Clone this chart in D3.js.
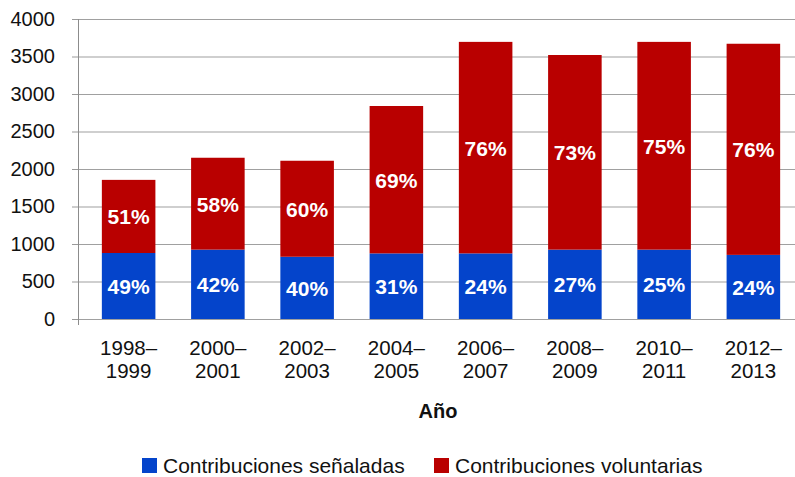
<!DOCTYPE html>
<html>
<head>
<meta charset="utf-8">
<title>Contribuciones</title>
<style>
  body { margin: 0; background: #fff; }
  text { font-family: "Liberation Sans", Arial, sans-serif; }
</style>
</head>
<body>
<svg width="795" height="477"></svg>
<script src="https://d3js.org/d3.v7.min.js"></script>
<script>
// data
var periods = ["1998–1999", "2000–2001", "2002–2003", "2004–2005", "2006–2007", "2008–2009", "2010–2011", "2012–2013"];
var senaladas = [880, 925, 830, 875, 875, 925, 925, 855];
var voluntarias = [975, 1225, 1280, 1965, 2820, 2595, 2770, 2815];
var pctSenaladas = ["49%", "42%", "40%", "31%", "24%", "27%", "25%", "24%"];
var pctVoluntarias = ["51%", "58%", "60%", "69%", "76%", "73%", "75%", "76%"];
var yTicks = [0, 500, 1000, 1500, 2000, 2500, 3000, 3500, 4000];
var seriesNames = ["Contribuciones señaladas", "Contribuciones voluntarias"];
var colors = ["#0444CB", "#B90000"];

var svg = d3.select("svg");

var x = d3.scaleBand()
    .domain(periods)
    .range([84, 798])
    .paddingInner(0.4)
    .paddingOuter(0.2);

var y = d3.scaleLinear()
    .domain([0, 4000])
    .range([319, 19]);

// gridlines + y ticks
var yAxis = svg.append("g")
    .attr("transform", "translate(78,0)")
    .call(d3.axisLeft(y).tickValues(yTicks).tickSize(6).tickPadding(17).tickFormat(d3.format("d")));
yAxis.select(".domain").remove();
yAxis.selectAll(".tick line").attr("stroke", "#9a9a9a");
yAxis.selectAll(".tick text")
    .attr("font-size", 20)
    .attr("fill", "#111")
    .attr("font-family", "'Liberation Sans', Arial, sans-serif");

svg.append("g").selectAll("line")
    .data(yTicks)
    .enter().append("line")
    .attr("x1", 78).attr("x2", 795)
    .attr("y1", d => y(d) + 0.5).attr("y2", d => y(d) + 0.5)
    .attr("stroke", "#a0a0a0")
    .attr("stroke-width", 1.2);

// y axis line
svg.append("line")
    .attr("x1", 78.5).attr("x2", 78.5)
    .attr("y1", y(4000)).attr("y2", y(0) + 6)
    .attr("stroke", "#8c8c8c");

var stacked = periods.map(function(p, i) {
  return {period: p, s: senaladas[i], v: voluntarias[i], ps: pctSenaladas[i], pv: pctVoluntarias[i]};
});

var bars = svg.append("g").selectAll("g")
    .data(stacked)
    .enter().append("g");

bars.append("rect")
    .attr("x", d => x(d.period))
    .attr("width", x.bandwidth())
    .attr("y", d => y(d.s))
    .attr("height", d => y(0) - y(d.s))
    .attr("fill", colors[0]);

bars.append("rect")
    .attr("x", d => x(d.period))
    .attr("width", x.bandwidth())
    .attr("y", d => y(d.s + d.v))
    .attr("height", d => y(d.s) - y(d.s + d.v))
    .attr("fill", colors[1]);

bars.append("text")
    .attr("x", d => x(d.period) + x.bandwidth() / 2)
    .attr("y", d => (y(0) + y(d.s)) / 2 + 8)
    .attr("text-anchor", "middle")
    .attr("font-size", 21)
    .attr("font-weight", "bold")
    .attr("fill", "#fff")
    .text(d => d.ps);

bars.append("text")
    .attr("x", d => x(d.period) + x.bandwidth() / 2)
    .attr("y", d => (y(d.s) + y(d.s + d.v)) / 2 + 8)
    .attr("text-anchor", "middle")
    .attr("font-size", 21)
    .attr("font-weight", "bold")
    .attr("fill", "#fff")
    .text(d => d.pv);

// x labels, two lines
var xl = svg.append("g").selectAll("text")
    .data(periods)
    .enter().append("text")
    .attr("text-anchor", "middle")
    .attr("font-size", 20.5)
    .attr("fill", "#111");
xl.append("tspan")
    .attr("x", d => x(d) + x.bandwidth() / 2)
    .attr("y", 355)
    .text(d => d.split("–")[0] + "–");
xl.append("tspan")
    .attr("x", d => x(d) + x.bandwidth() / 2)
    .attr("y", 378)
    .text(d => d.split("–")[1]);

svg.append("text")
    .attr("x", 438)
    .attr("y", 418)
    .attr("text-anchor", "middle")
    .attr("font-size", 20)
    .attr("font-weight", "bold")
    .attr("fill", "#111")
    .text("Año");

// legend
var legendX = [142, 434];
var lg = svg.append("g").selectAll("g")
    .data(seriesNames)
    .enter().append("g")
    .attr("transform", (d, i) => "translate(" + legendX[i] + ",458)");
lg.append("rect")
    .attr("width", 15).attr("height", 15)
    .attr("fill", (d, i) => colors[i]);
lg.append("text")
    .attr("x", 21)
    .attr("y", 14.5)
    .attr("font-size", 21)
    .attr("fill", "#111")
    .text(d => d);
</script>
</body>
</html>
